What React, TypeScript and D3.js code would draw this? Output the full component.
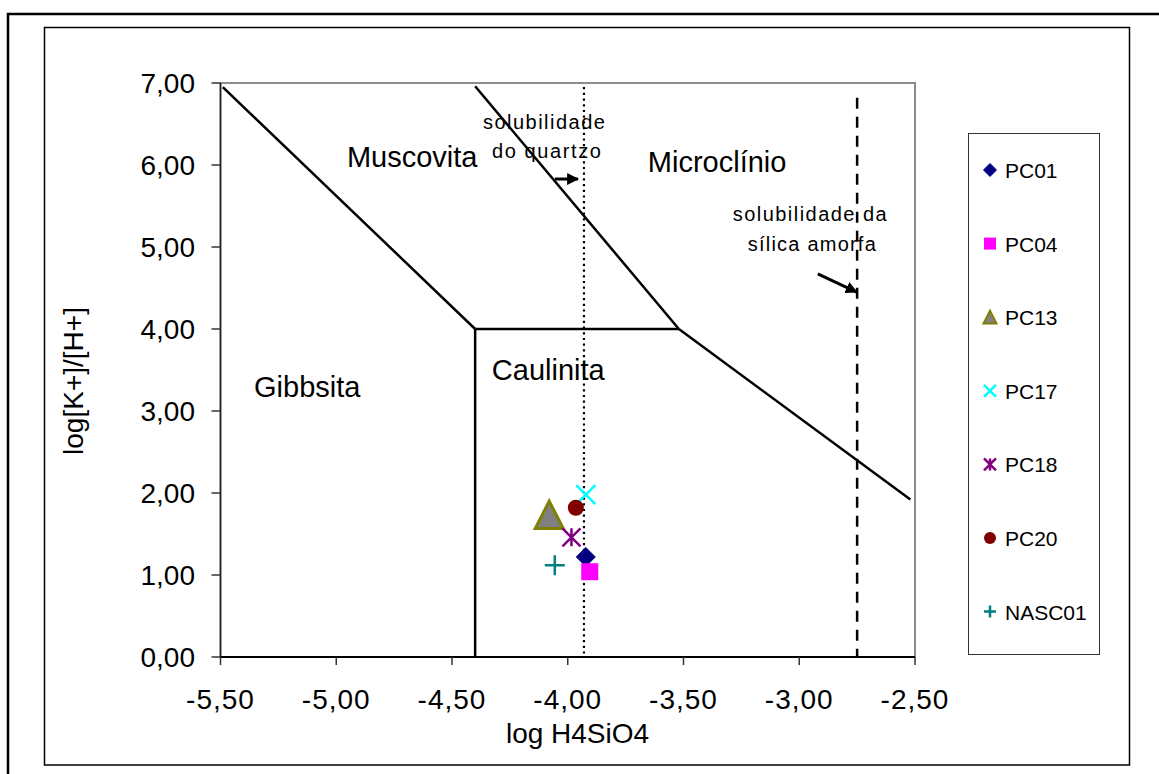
import React, { useEffect } from 'react';
import * as d3 from 'd3';

// ---- data ----
const xTicks = [-5.5, -5.0, -4.5, -4.0, -3.5, -3.0, -2.5];
const yTicks = [0, 1, 2, 3, 4, 5, 6, 7];

const seriesNames = ['PC01', 'PC04', 'PC13', 'PC17', 'PC18', 'PC20', 'NASC01'];
const seriesX = [-3.922, -3.905, -4.08, -3.922, -3.984, -3.965, -4.056];
const seriesY = [1.22, 1.04, 1.73, 1.98, 1.46, 1.82, 1.12];
const seriesShape = ['diamond', 'square', 'triangle', 'x', 'asterisk', 'circle', 'plus'];
const seriesColor = ['#000080', '#FF00FF', '#808000', '#00FFFF', '#800080', '#800000', '#008080'];

// stability field boundaries (log H4SiO4, log[K+]/[H+])
const gibbsiteMuscovite = [[-5.49, 6.95], [-4.4, 4.0]];
const gibbsiteKaolinite = [[-4.4, 4.0], [-4.4, 0.0]];
const kaoliniteMuscovite = [[-4.4, 4.0], [-3.52, 4.0]];
const muscoviteMicrocline = [[-4.4, 6.96], [-3.52, 4.0]];
const kaoliniteMicrocline = [[-3.52, 4.0], [-2.52, 1.92]];
const boundaries = [gibbsiteMuscovite, gibbsiteKaolinite, kaoliniteMuscovite, muscoviteMicrocline, kaoliniteMicrocline];

const quartzSolubility = -3.93;
const quartzTop = 6.95;
const silicaSolubility = -2.75;
const silicaTop = 6.82;

const fieldLabels = ['Muscovita', 'Microclínio', 'Gibbsita', 'Caulinita'];
const fieldLabelX = [-4.954, -3.654, -5.355, -4.328];
const fieldLabelY = [5.976, 5.915, 3.171, 3.378];

const noteLabels = ['solubilidade', 'do quartzo', 'solubilidade da', 'sílica amorfa'];
const noteX = [-4.103, -4.092, -2.955, -2.946];
const noteY = [6.439, 6.085, 5.317, 4.951];
const noteWidth = [122, 109, 154, 128];

const arrows = [
  [[-4.056, 5.829], [-3.956, 5.829]],
  [[-2.92, 4.671], [-2.752, 4.451]],
];

const FONT = '"Liberation Sans", Arial, sans-serif';

const locale = d3.formatLocale({ decimal: ',', thousands: '.', grouping: [3], currency: ['', ''], minus: '-' });
const fmt = locale.format('.2f');

function Marker({ shape, color, cx, cy, s }: { shape: string; color: string; cx: number; cy: number; s: number }) {
  const h = s / 2;
  switch (shape) {
    case 'diamond':
      return <path d={`M${cx},${cy - h}L${cx + h},${cy}L${cx},${cy + h}L${cx - h},${cy}Z`} fill={color} stroke={color} strokeWidth={1} />;
    case 'square':
      return <rect x={cx - h} y={cy - h} width={s} height={s} fill={color} />;
    case 'triangle': {
      const sw = s > 20 ? 3 : 2;
      return (
        <path
          d={`M${cx},${cy - h}L${cx + h},${cy + h * 0.95}L${cx - h},${cy + h * 0.95}Z`}
          fill="#808080"
          stroke={color}
          strokeWidth={sw}
          strokeLinejoin="miter"
        />
      );
    }
    case 'x':
      return (
        <path d={`M${cx - h},${cy - h}L${cx + h},${cy + h}M${cx - h},${cy + h}L${cx + h},${cy - h}`} stroke={color} strokeWidth={2.5} />
      );
    case 'asterisk':
      return (
        <path
          d={`M${cx - h},${cy - h}L${cx + h},${cy + h}M${cx - h},${cy + h}L${cx + h},${cy - h}M${cx},${cy - h}L${cx},${cy + h}`}
          stroke={color}
          strokeWidth={2.5}
        />
      );
    case 'circle':
      return <circle cx={cx} cy={cy} r={h} fill={color} />;
    case 'plus':
      return <path d={`M${cx - h},${cy}L${cx + h},${cy}M${cx},${cy - h}L${cx},${cy + h}`} stroke={color} strokeWidth={2.5} />;
    default:
      return null;
  }
}

const dataSizes: Record<string, number> = { diamond: 19, square: 17, triangle: 28, x: 19, asterisk: 18, circle: 16, plus: 20 };
const legendSizes: Record<string, number> = { diamond: 13, square: 12, triangle: 13, x: 12, asterisk: 12, circle: 12, plus: 12 };

export default function App() {
  useEffect(() => {
    document.body.style.margin = '0';
  }, []);

  const W = 1159;
  const H = 774;
  const x = d3.scaleLinear().domain([-5.5, -2.5]).range([220.5, 915]);
  const y = d3.scaleLinear().domain([0, 7]).range([657, 83]);
  const line = d3.line<number[]>().x((d) => x(d[0])).y((d) => y(d[1]));

  const legendX = 968;
  const legendY = 133;
  const legendW = 131;
  const legendH = 521;
  const legendStep = 73.6;
  const legendFirst = 170;

  return (
    <svg width={W} height={H} style={{ position: 'absolute', left: 0, top: 0, display: 'block' }} fontFamily={FONT}>
      <defs>
        <marker id="arrow" viewBox="0 0 10 10" refX="9" refY="5" markerWidth="4" markerHeight="4" orient="auto">
          <path d="M0,0L10,5L0,10Z" fill="#000" />
        </marker>
      </defs>
      <rect x={0} y={0} width={W} height={H} fill="#fff" />
      {/* outer page border */}
      <path d={`M8,${H}V14H${W}`} fill="none" stroke="#000" strokeWidth={2.5} />
      {/* chart area */}
      <rect x={44.5} y={27.5} width={1085} height={737.5} fill="#fff" stroke="#000" strokeWidth={1.5} />
      {/* plot area */}
      <rect x={x(-5.5)} y={y(7)} width={x(-2.5) - x(-5.5)} height={y(0) - y(7)} fill="#fff" stroke="#8c8c8c" strokeWidth={2} />
      {/* axes */}
      <line x1={x(-5.5)} x2={x(-5.5)} y1={y(7)} y2={y(0)} stroke="#222" strokeWidth={1.5} />
      <line x1={x(-5.5)} x2={x(-2.5)} y1={y(0)} y2={y(0)} stroke="#000" strokeWidth={2} />
      {yTicks.map((t) => (
        <g key={'y' + t}>
          <line x1={x(-5.5) - 9} x2={x(-5.5)} y1={y(t)} y2={y(t)} stroke="#333" strokeWidth={1.5} />
          <text x={195} y={y(t) + 10} textAnchor="end" fontSize={28} fill="#000">
            {fmt(t)}
          </text>
        </g>
      ))}
      {xTicks.map((t) => (
        <g key={'x' + t}>
          <line x1={x(t)} x2={x(t)} y1={y(0)} y2={y(0) + 8} stroke="#333" strokeWidth={1.5} />
          <text x={x(t)} y={709} textAnchor="middle" fontSize={28} letterSpacing={1} fill="#000">
            {fmt(t)}
          </text>
        </g>
      ))}
      <text x={577.5} y={743} textAnchor="middle" fontSize={28} fill="#000">
        log H4SiO4
      </text>
      <text transform="translate(83,381) rotate(-90)" textAnchor="middle" fontSize={28} fill="#000">
        log[K+]/[H+]
      </text>

      {/* solubility lines */}
      <line x1={x(quartzSolubility)} x2={x(quartzSolubility)} y1={y(quartzTop)} y2={y(0)} stroke="#000" strokeWidth={2.2} strokeDasharray="2.2,3.5" />
      <line x1={x(silicaSolubility)} x2={x(silicaSolubility)} y1={y(silicaTop)} y2={y(0)} stroke="#000" strokeWidth={2.5} strokeDasharray="11,8" />

      {/* boundaries */}
      {boundaries.map((b, i) => (
        <path key={'b' + i} d={line(b) || ''} fill="none" stroke="#000" strokeWidth={2.5} strokeLinejoin="miter" />
      ))}

      {/* field labels */}
      {fieldLabels.map((t, i) => (
        <text key={t} x={x(fieldLabelX[i])} y={y(fieldLabelY[i])} fontSize={29} fill="#000">
          {t}
        </text>
      ))}
      {noteLabels.map((t, i) => (
        <text
          key={t}
          x={x(noteX[i])}
          y={y(noteY[i])}
          textAnchor="middle"
          fontSize={20}
          textLength={noteWidth[i]}
          lengthAdjust="spacing"
          fill="#000"
        >
          {t}
        </text>
      ))}
      {arrows.map((a, i) => (
        <path key={'a' + i} d={line(a) || ''} stroke="#000" strokeWidth={3} markerEnd="url(#arrow)" />
      ))}

      {/* data points */}
      {seriesNames.map((n, i) => (
        <Marker key={n} shape={seriesShape[i]} color={seriesColor[i]} cx={x(seriesX[i])} cy={y(seriesY[i])} s={dataSizes[seriesShape[i]]} />
      ))}

      {/* legend */}
      <rect x={legendX + 0.5} y={legendY + 0.5} width={legendW} height={legendH} fill="#fff" stroke="#333" strokeWidth={1} />
      {seriesNames.map((n, i) => {
        const cy = legendFirst + i * legendStep;
        return (
          <g key={'l' + n}>
            <Marker shape={seriesShape[i]} color={seriesColor[i]} cx={990} cy={cy} s={legendSizes[seriesShape[i]]} />
            <text x={1005} y={cy + 8} fontSize={21} fill="#000">
              {n}
            </text>
          </g>
        );
      })}
    </svg>
  );
}
